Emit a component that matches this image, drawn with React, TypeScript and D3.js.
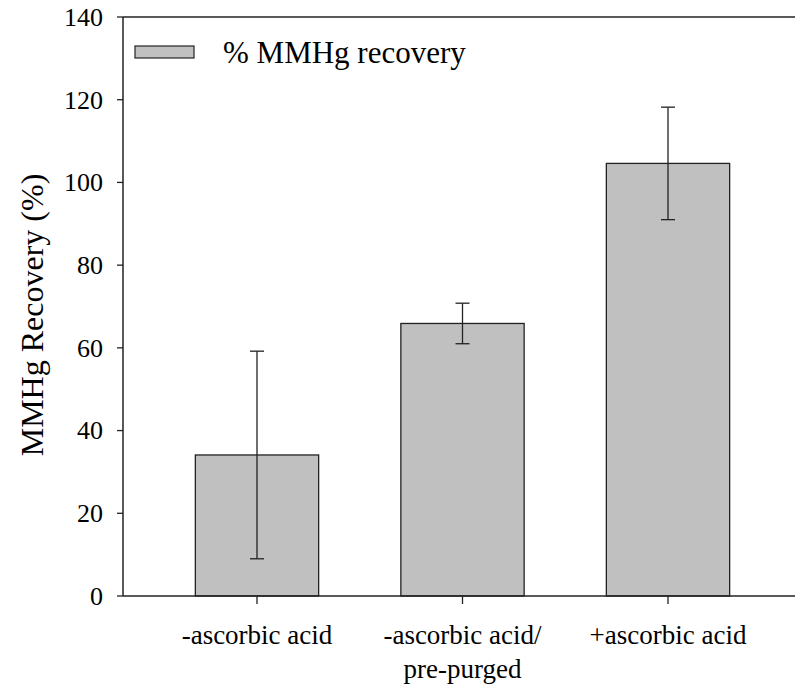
import React from "react";
import * as d3 from "d3";

const categories = ["-ascorbic acid", "-ascorbic acid/\npre-purged", "+ascorbic acid"];
const values = [34.1, 65.9, 104.6];
const errors = [25.1, 4.9, 13.6];
const yTicks = [0, 20, 40, 60, 80, 100, 120, 140];
const legendLabel = "% MMHg recovery";
const yLabel = "MMHg Recovery (%)";

export default function App() {
  const W = 795, H = 689;
  const left = 123, top = 17, bottom = 596;
  const y = d3.scaleLinear().domain([0, 140]).range([bottom, top]);
  const step = 205.5;
  const x = d3
    .scaleBand<string>()
    .domain(categories)
    .range([257 - step / 2, 668 + step / 2])
    .paddingInner(0.4)
    .paddingOuter(0.2);
  const font = "Times New Roman, Liberation Serif, Times, serif";
  const stroke = "#222";
  return (
    <svg width={W} height={H} style={{ position: "absolute", left: 0, top: 0, fontFamily: font }}>
      {/* bars */}
      {categories.map((c, i) => (
        <rect
          key={c}
          x={x(c)}
          y={y(values[i])}
          width={x.bandwidth()}
          height={y(0) - y(values[i])}
          fill="#c0c0c0"
          stroke={stroke}
          strokeWidth={1.3}
        />
      ))}
      {/* error bars */}
      {categories.map((c, i) => {
        const cx = (x(c) as number) + x.bandwidth() / 2;
        const y1 = y(values[i] + errors[i]);
        const y2 = y(values[i] - errors[i]);
        return (
          <g key={"e" + i} stroke={stroke} strokeWidth={1.3}>
            <line x1={cx} x2={cx} y1={y1} y2={y2} />
            <line x1={cx - 7} x2={cx + 7} y1={y1} y2={y1} />
            <line x1={cx - 7} x2={cx + 7} y1={y2} y2={y2} />
          </g>
        );
      })}
      {/* axes frame */}
      <line x1={left} x2={W} y1={top} y2={top} stroke={stroke} strokeWidth={1.5} />
      <line x1={left} x2={W} y1={bottom} y2={bottom} stroke={stroke} strokeWidth={1.5} />
      <line x1={left} x2={left} y1={top} y2={bottom} stroke={stroke} strokeWidth={1.5} />
      {/* y ticks */}
      {yTicks.map((t) => (
        <g key={t}>
          <line x1={left - 6} x2={left} y1={y(t)} y2={y(t)} stroke={stroke} strokeWidth={1.3} />
          <text x={103} y={y(t)} dy="0.34em" textAnchor="end" fontSize={26} fill="#000">
            {t}
          </text>
        </g>
      ))}
      {/* x ticks and labels */}
      {categories.map((c) => {
        const cx = (x(c) as number) + x.bandwidth() / 2;
        const lines = c.split("\n");
        return (
          <g key={"x" + c}>
            <line x1={cx} x2={cx} y1={bottom} y2={bottom + 8} stroke={stroke} strokeWidth={1.3} />
            {lines.map((l, j) => (
              <text key={j} x={cx} y={644 + j * 34} textAnchor="middle" fontSize={27} fill="#000">
                {l}
              </text>
            ))}
          </g>
        );
      })}
      {/* y label */}
      <text
        transform={`translate(43, ${315}) rotate(-90)`}
        textAnchor="middle"
        fontSize={32}
        fill="#000"
      >
        {yLabel}
      </text>
      {/* legend */}
      <rect x={135} y={46} width={59} height={12} fill="#c0c0c0" stroke={stroke} strokeWidth={1.2} />
      <text x={223} y={63} fontSize={31} fill="#000">
        {legendLabel}
      </text>
    </svg>
  );
}
